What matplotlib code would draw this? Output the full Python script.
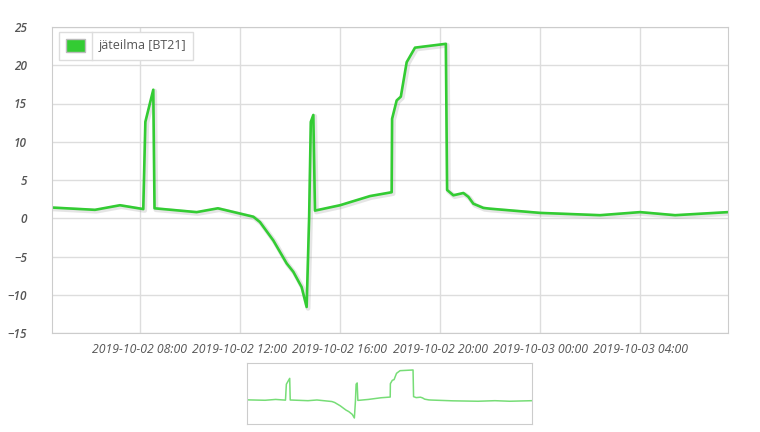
import matplotlib
matplotlib.use('Agg')
import matplotlib.pyplot as plt
import matplotlib.dates as mdates
import matplotlib.patheffects as pe
from matplotlib.patches import Rectangle
import pandas as pd

# jäteilma [BT21] mittaukset
times = ['2019-10-02 04:29', '2019-10-02 06:12', '2019-10-02 07:12', '2019-10-02 08:08',
         '2019-10-02 08:13', '2019-10-02 08:32', '2019-10-02 08:35', '2019-10-02 10:16',
         '2019-10-02 11:07', '2019-10-02 12:32', '2019-10-02 12:48', '2019-10-02 13:20',
         '2019-10-02 13:52', '2019-10-02 14:08', '2019-10-02 14:28', '2019-10-02 14:40',
         '2019-10-02 14:46', '2019-10-02 14:50', '2019-10-02 14:56', '2019-10-02 15:00',
         '2019-10-02 16:00', '2019-10-02 17:12', '2019-10-02 18:04', '2019-10-02 18:05',
         '2019-10-02 18:16', '2019-10-02 18:26', '2019-10-02 18:40', '2019-10-02 19:00',
         '2019-10-02 20:14', '2019-10-02 20:17', '2019-10-02 20:32', '2019-10-02 20:56',
         '2019-10-02 21:08', '2019-10-02 21:20', '2019-10-02 21:44', '2019-10-02 22:00',
         '2019-10-03 00:00', '2019-10-03 02:24', '2019-10-03 04:00', '2019-10-03 05:24',
         '2019-10-03 07:31']
values = [1.4, 1.1, 1.7, 1.2,
          12.6, 16.8, 1.3, 0.8,
          1.3, 0.2, -0.5, -2.9,
          -5.9, -7.0, -9.0, -11.6,
          0.2, 12.6, 13.5, 1.0,
          1.7, 2.9, 3.4, 13.0,
          15.4, 15.9, 20.4, 22.3,
          22.8, 3.7, 3.0, 3.3,
          2.8, 1.9, 1.35, 1.25,
          0.7, 0.4, 0.8, 0.4,
          0.8]
series_name = 'jäteilma [BT21]'
y_ticks = [-15, -10, -5, 0, 5, 10, 15, 20, 25]

t = pd.to_datetime(times)

W, H = 760, 432
fig = plt.figure(figsize=(7.6, 4.32), dpi=100)
fig.patch.set_facecolor('white')

# paakaavio
ax = fig.add_axes([52 / W, 1 - 333 / H, 676 / W, 306 / H])
ax.plot(t, values, color='#33cc33', lw=1.9, solid_joinstyle='round',
        path_effects=[pe.SimpleLineShadow(offset=(1, -1), shadow_color='gray', alpha=0.2, linewidth=3.5),
                      pe.Normal()])
ax.set_xlim(t[0], t[-1])
ax.set_ylim(-15, 25)
ax.set_yticks(y_ticks)
ax.xaxis.set_major_locator(mdates.HourLocator(byhour=[0, 4, 8, 12, 16, 20]))
ax.xaxis.set_major_formatter(mdates.DateFormatter('%Y-%m-%d %H:%M'))
ax.grid(True, color='#dddddd', lw=1)
ax.set_axisbelow(True)
for s in ax.spines.values():
    s.set_color('#cccccc')
ax.tick_params(length=0, colors='#666666')
ax.tick_params(axis='y', pad=18)
ax.tick_params(axis='x', pad=7)
for lab in ax.get_yticklabels():
    lab.set_fontfamily('Open Sans')
    lab.set_fontstyle('italic')
    lab.set_fontweight('semibold')
    lab.set_fontsize(8.5)
    lab.set_color('#555555')
for lab in ax.get_xticklabels():
    lab.set_fontfamily('Open Sans')
    lab.set_fontstyle('italic')
    lab.set_fontsize(8.8)
    lab.set_color('#555555')

# selite
def px(x, y):
    return x / W, 1 - y / H
lx, ly = px(59, 60)
fig.patches.append(Rectangle((lx, ly), 134 / W, 28 / H, transform=fig.transFigure,
                             facecolor='white', edgecolor='#dddddd', lw=1, zorder=5))
dx, dy = px(92, 60)
fig.lines.append(plt.Line2D([dx, dx], [dy, dy + 28 / H], transform=fig.transFigure,
                            color='#dddddd', lw=1, zorder=6))
sx, sy = px(66, 52)
fig.patches.append(Rectangle((sx, sy), 19 / W, 13 / H, transform=fig.transFigure,
                             facecolor='#33cc33', edgecolor='#bbbbbb', lw=1, zorder=6))
tx, ty = px(99, 46)
fig.text(tx, ty, series_name, fontsize=9, color='#555555', family='Open Sans',
         va='center', ha='left', zorder=7)

# navigaattori
nav = fig.add_axes([247 / W, 1 - 424 / H, 285 / W, 61 / H])
nav.plot(t, values, color='#77dd77', lw=1.1)
nav.set_xlim(t[0], t[-1])
nav.set_ylim(-15.9, 27.8)
nav.set_xticks([])
nav.set_yticks([])
for s in nav.spines.values():
    s.set_color('#cccccc')

fig.savefig('out.png', dpi=100)
